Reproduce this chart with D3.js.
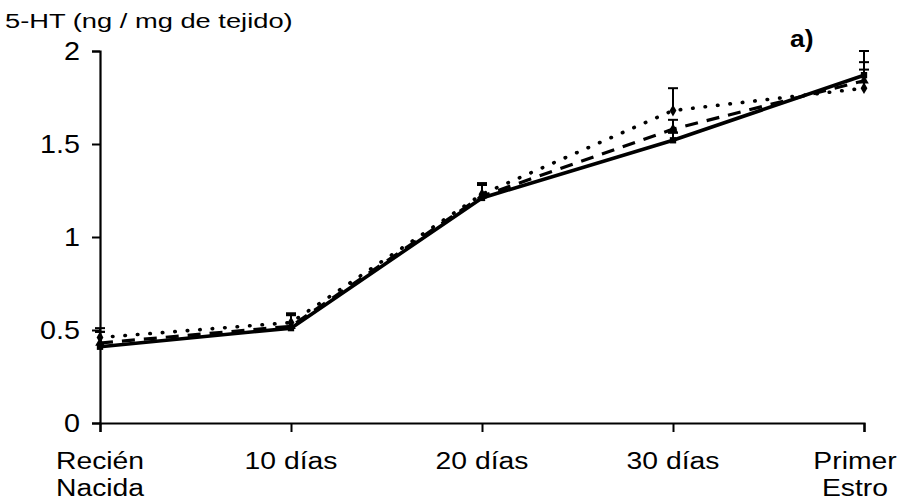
<!DOCTYPE html>
<html>
<head>
<meta charset="utf-8">
<script src="https://cdn.jsdelivr.net/npm/d3@7"></script>
<style>
  html, body { margin: 0; padding: 0; background: #fff; }
  svg { display: block; }
  text { font-family: Arial, "Liberation Sans", sans-serif; fill: #000; }
</style>
</head>
<body>
<svg id="chart" width="907" height="504"></svg>
<script>
// Stages of development (x categories), two-line labels
const categories = ["Recién Nacida", "10 días", "20 días", "30 días", "Primer Estro"];
const categoryLines = [["Recién", "Nacida"], ["10 días"], ["20 días"], ["30 días"], ["Primer", "Estro"]];

// 5-HT concentration (ng / mg tissue) per group
const solidValues  = [0.41, 0.51, 1.21, 1.52, 1.87];
const dashedValues = [0.43, 0.52, 1.22, 1.58, 1.84];
const dottedValues = [0.46, 0.54, 1.23, 1.68, 1.80];

// Upper error (SEM) per group
const solidErr  = [0.08, 0.07, 0.07, 0.04, 0.13];
const dashedErr = [0.06, 0.06, 0.06, 0.05, 0.10];
const dottedErr = [0.05, 0.05, 0.06, 0.12, 0.10];

const yTicks = [0, 0.5, 1, 1.5, 2];
const yTickLabels = ["0", "0.5", "1", "1.5", "2"];

const series = [
  { name: "dotted", values: dottedValues, err: dottedErr, dash: "0.5,12", width: 3.6, cap: "round", marker: "diamond" },
  { name: "dashed", values: dashedValues, err: dashedErr, dash: "13,9", width: 3.2, cap: "butt", marker: "triangle" },
  { name: "solid",  values: solidValues,  err: solidErr,  dash: null, width: 3.6, cap: "butt", marker: "square" }
];

const svg = d3.select("#chart");
const x = d3.scalePoint().domain(categories).range([100, 864]);
const y = d3.scaleLinear().domain([0, 2]).range([423, 51]);

// Y axis
const yAxis = svg.append("g")
  .attr("transform", "translate(100,0)")
  .call(d3.axisLeft(y).tickValues(yTicks).tickFormat("").tickSizeOuter(0).tickSize(8));
yAxis.select(".domain").attr("stroke", "#000").attr("stroke-width", 2.2);
yAxis.selectAll(".tick line").attr("stroke", "#000").attr("stroke-width", 2);

// X axis
const xAxis = svg.append("g")
  .attr("transform", "translate(0,423)")
  .call(d3.axisBottom(x).tickFormat("").tickSizeOuter(0).tickSize(9));
xAxis.select(".domain").attr("stroke", "#000").attr("stroke-width", 2.2);
xAxis.selectAll(".tick line").attr("stroke", "#000").attr("stroke-width", 2);

// Y tick labels
svg.append("g").selectAll("text")
  .data(yTicks)
  .join("text")
  .attr("text-anchor", "end")
  .attr("transform", d => `translate(80,${y(d) + 9}) scale(1.15,1)`)
  .attr("font-size", 25)
  .text((d, i) => yTickLabels[i]);

// X category labels (last one nudged left to stay inside the frame)
const xl = svg.append("g").selectAll("g")
  .data(categories)
  .join("g");
xl.each(function (c, i) {
  const g = d3.select(this);
  const shift = i === categories.length - 1 ? -9 : 0;
  categoryLines[i].forEach((line, j) => {
    g.append("text")
      .attr("text-anchor", "middle")
      .attr("transform", `translate(${x(c) + shift},${469 + j * 27}) scale(1.23,1)`)
      .attr("font-size", 23)
      .text(line);
  });
});

// Axis title and panel letter
svg.append("text")
  .attr("transform", "translate(5,28) scale(1.3,1)")
  .attr("font-size", 21)
  .text("5-HT (ng / mg de tejido)");
svg.append("text")
  .attr("transform", "translate(790,47) scale(1.1,1)")
  .attr("font-size", 24)
  .attr("font-weight", "bold")
  .text("a)");

// Error bars (upper only)
const eb = svg.append("g");
series.forEach(s => {
  s.values.forEach((v, i) => {
    const cx = x(categories[i]);
    eb.append("line")
      .attr("x1", cx).attr("x2", cx)
      .attr("y1", y(v)).attr("y2", y(v + s.err[i]))
      .attr("stroke", "#000").attr("stroke-width", 2);
    eb.append("line")
      .attr("x1", cx - 5).attr("x2", cx + 5)
      .attr("y1", y(v + s.err[i])).attr("y2", y(v + s.err[i]))
      .attr("stroke", "#000").attr("stroke-width", 2);
  });
});

// Lines
const line = d3.line().x((d, i) => x(categories[i])).y(d => y(d));
series.forEach(s => {
  svg.append("path")
    .datum(s.values)
    .attr("d", line)
    .attr("fill", "none")
    .attr("stroke", "#000")
    .attr("stroke-width", s.width)
    .attr("stroke-linecap", s.cap)
    .attr("stroke-dasharray", s.dash);
});

// Markers
const symbolType = { diamond: d3.symbolDiamond, triangle: d3.symbolTriangle, square: d3.symbolSquare };
series.forEach(s => {
  svg.append("g").selectAll("path")
    .data(s.values)
    .join("path")
    .attr("transform", (d, i) => `translate(${x(categories[i])},${y(d)})`)
    .attr("d", d3.symbol().type(symbolType[s.marker]).size(40))
    .attr("fill", "#000");
});
</script>
</body>
</html>
